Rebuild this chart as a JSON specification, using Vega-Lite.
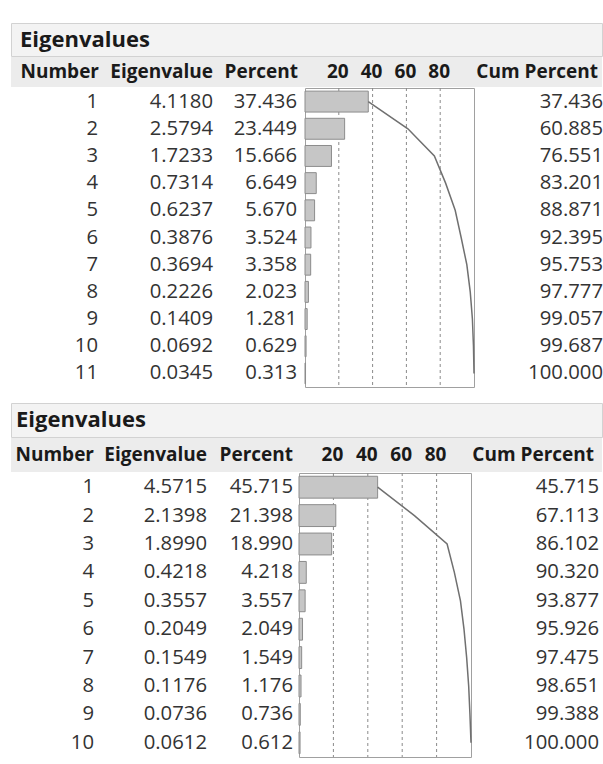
{
  "$schema": "https://vega.github.io/schema/vega-lite/v6.json",
  "padding": {"left": 10, "top": 22, "right": 0, "bottom": 0},
  "background": "white",
  "config": {
    "view": {"stroke": null},
    "font": "Open Sans",
    "text": {"fontSize": 20.3, "color": "#333333"},
    "concat": {"spacing": 0}
  },
  "datasets": {
    "t1": [
      {"Number": 1, "Eigenvalue": 4.1180, "Percent": 37.436, "CumPercent": 37.436},
      {"Number": 2, "Eigenvalue": 2.5794, "Percent": 23.449, "CumPercent": 60.885},
      {"Number": 3, "Eigenvalue": 1.7233, "Percent": 15.666, "CumPercent": 76.551},
      {"Number": 4, "Eigenvalue": 0.7314, "Percent": 6.649, "CumPercent": 83.201},
      {"Number": 5, "Eigenvalue": 0.6237, "Percent": 5.670, "CumPercent": 88.871},
      {"Number": 6, "Eigenvalue": 0.3876, "Percent": 3.524, "CumPercent": 92.395},
      {"Number": 7, "Eigenvalue": 0.3694, "Percent": 3.358, "CumPercent": 95.753},
      {"Number": 8, "Eigenvalue": 0.2226, "Percent": 2.023, "CumPercent": 97.777},
      {"Number": 9, "Eigenvalue": 0.1409, "Percent": 1.281, "CumPercent": 99.057},
      {"Number": 10, "Eigenvalue": 0.0692, "Percent": 0.629, "CumPercent": 99.687},
      {"Number": 11, "Eigenvalue": 0.0345, "Percent": 0.313, "CumPercent": 100.000}
    ],
    "t2": [
      {"Number": 1, "Eigenvalue": 4.5715, "Percent": 45.715, "CumPercent": 45.715},
      {"Number": 2, "Eigenvalue": 2.1398, "Percent": 21.398, "CumPercent": 67.113},
      {"Number": 3, "Eigenvalue": 1.8990, "Percent": 18.990, "CumPercent": 86.102},
      {"Number": 4, "Eigenvalue": 0.4218, "Percent": 4.218, "CumPercent": 90.320},
      {"Number": 5, "Eigenvalue": 0.3557, "Percent": 3.557, "CumPercent": 93.877},
      {"Number": 6, "Eigenvalue": 0.2049, "Percent": 2.049, "CumPercent": 95.926},
      {"Number": 7, "Eigenvalue": 0.1549, "Percent": 1.549, "CumPercent": 97.475},
      {"Number": 8, "Eigenvalue": 0.1176, "Percent": 1.176, "CumPercent": 98.651},
      {"Number": 9, "Eigenvalue": 0.0736, "Percent": 0.736, "CumPercent": 99.388},
      {"Number": 10, "Eigenvalue": 0.0612, "Percent": 0.612, "CumPercent": 100.000}
    ],
    "titles": [{"title": "Eigenvalues"}],
    "headers": [
      {"col": "Number"}, {"col": "Eigenvalue"}, {"col": "Percent"}, {"col": "Cum Percent"}
    ],
    "ticks": [{"tick": 20}, {"tick": 40}, {"tick": 60}, {"tick": 80}]
  },
  "spacing": 14,
  "vconcat": [
    {
      "spacing": 0,
      "vconcat": [
        {
          "width": 591, "height": 33,
          "data": {"name": "titles"},
          "mark": {"type": "text", "align": "left", "dx": 9, "fontSize": 22, "fontWeight": "bold", "color": "#1a1a1a"},
          "encoding": {"x": {"value": 0}, "text": {"field": "title"}},
          "view": {"fill": "#f3f3f3", "stroke": "#d2d2d2"}
        },
        {
          "spacing": 0,
          "hconcat": [
            {"width": 91, "height": 30, "data": {"name": "headers"}, "transform": [{"filter": "datum.col === 'Number'"}],
             "mark": {"type": "text", "align": "right", "dx": -3, "fontWeight": "bold", "fontSize": 19, "color": "#1a1a1a"},
             "encoding": {"x": {"value": "width"}, "text": {"field": "col"}}, "view": {"fill": "#ececec"}},
            {"width": 115, "height": 30, "data": {"name": "headers"}, "transform": [{"filter": "datum.col === 'Eigenvalue'"}],
             "mark": {"type": "text", "align": "right", "dx": -4, "fontWeight": "bold", "fontSize": 19, "color": "#1a1a1a"},
             "encoding": {"x": {"value": "width"}, "text": {"field": "col"}}, "view": {"fill": "#ececec"}},
            {"width": 87, "height": 30, "data": {"name": "headers"}, "transform": [{"filter": "datum.col === 'Percent'"}],
             "mark": {"type": "text", "align": "right", "dx": -6, "fontWeight": "bold", "fontSize": 19, "color": "#1a1a1a"},
             "encoding": {"x": {"value": "width"}, "text": {"field": "col"}}, "view": {"fill": "#ececec"}},
            {"width": 169, "height": 30, "data": {"name": "ticks"},
             "mark": {"type": "text", "align": "center", "fontWeight": "bold", "fontSize": 19, "color": "#1a1a1a"},
             "encoding": {"x": {"field": "tick", "type": "quantitative", "scale": {"domain": [0, 100], "nice": false}, "axis": null}, "text": {"field": "tick"}},
             "view": {"fill": "#ececec"}},
            {"width": 129, "height": 30, "data": {"name": "headers"}, "transform": [{"filter": "datum.col === 'Cum Percent'"}],
             "mark": {"type": "text", "align": "right", "dx": -4, "fontWeight": "bold", "fontSize": 19, "color": "#1a1a1a"},
             "encoding": {"x": {"value": "width"}, "text": {"field": "col"}}, "view": {"fill": "#ececec"}}
          ]
        },
        {
          "spacing": 0,
          "hconcat": [
            {"width": 91, "height": 299, "data": {"name": "t1"},
             "mark": {"type": "text", "align": "right", "dx": -4},
             "encoding": {"x": {"value": "width"}, "y": {"field": "Number", "type": "ordinal", "axis": null, "scale": {"type": "band", "paddingInner": 0.23, "paddingOuter": 0.115}}, "text": {"field": "Number"}}},
            {"width": 115, "height": 299, "data": {"name": "t1"},
             "mark": {"type": "text", "align": "right", "dx": -4},
             "encoding": {"x": {"value": "width"}, "y": {"field": "Number", "type": "ordinal", "axis": null, "scale": {"type": "band", "paddingInner": 0.23, "paddingOuter": 0.115}}, "text": {"field": "Eigenvalue", "format": ".4f"}}},
            {"width": 87, "height": 299, "data": {"name": "t1"},
             "mark": {"type": "text", "align": "right", "dx": -7},
             "encoding": {"x": {"value": "width"}, "y": {"field": "Number", "type": "ordinal", "axis": null, "scale": {"type": "band", "paddingInner": 0.23, "paddingOuter": 0.115}}, "text": {"field": "Percent", "format": ".3f"}}},
            {"width": 169, "height": 299, "data": {"name": "t1"},
             "view": {"stroke": "#a0a0a0"},
             "encoding": {
               "y": {"field": "Number", "type": "ordinal", "axis": null, "scale": {"type": "band", "paddingInner": 0.23, "paddingOuter": 0.115}}
             },
             "layer": [
               {"data": {"name": "ticks"}, "mark": {"type": "rule", "color": "#8a8a8a", "strokeDash": [3, 3], "strokeWidth": 1},
                "encoding": {"x": {"field": "tick", "type": "quantitative", "scale": {"domain": [0, 100], "nice": false}, "axis": null}, "y": null}},
               {"mark": {"type": "bar", "color": "#c6c6c6", "stroke": "#8c8c8c", "strokeWidth": 1},
                "encoding": {"x": {"field": "Percent", "type": "quantitative", "scale": {"domain": [0, 100], "nice": false}, "axis": null}}},
               {"mark": {"type": "line", "color": "#707070", "strokeWidth": 1.5},
                "encoding": {"x": {"field": "CumPercent", "type": "quantitative", "scale": {"domain": [0, 100], "nice": false}, "axis": null}}}
             ]},
            {"width": 129, "height": 299, "data": {"name": "t1"},
             "mark": {"type": "text", "align": "right", "dx": -4},
             "encoding": {"x": {"value": "width"}, "y": {"field": "Number", "type": "ordinal", "axis": null, "scale": {"type": "band", "paddingInner": 0.23, "paddingOuter": 0.115}}, "text": {"field": "CumPercent", "format": ".3f"}}}
          ]
        }
      ]
    },
    {
      "spacing": 0,
      "vconcat": [
        {
          "width": 591, "height": 34,
          "data": {"name": "titles"},
          "mark": {"type": "text", "align": "left", "dx": 5, "fontSize": 22, "fontWeight": "bold", "color": "#1a1a1a"},
          "encoding": {"x": {"value": 0}, "text": {"field": "title"}},
          "view": {"fill": "#f3f3f3", "stroke": "#d2d2d2"}
        },
        {
          "spacing": 0,
          "hconcat": [
            {"width": 86, "height": 34, "data": {"name": "headers"}, "transform": [{"filter": "datum.col === 'Number'"}],
             "mark": {"type": "text", "align": "right", "dx": -3, "fontWeight": "bold", "fontSize": 19, "color": "#1a1a1a"},
             "encoding": {"x": {"value": "width"}, "text": {"field": "col"}}, "view": {"fill": "#ececec"}},
            {"width": 114, "height": 34, "data": {"name": "headers"}, "transform": [{"filter": "datum.col === 'Eigenvalue'"}],
             "mark": {"type": "text", "align": "right", "dx": -4, "fontWeight": "bold", "fontSize": 19, "color": "#1a1a1a"},
             "encoding": {"x": {"value": "width"}, "text": {"field": "col"}}, "view": {"fill": "#ececec"}},
            {"width": 87, "height": 34, "data": {"name": "headers"}, "transform": [{"filter": "datum.col === 'Percent'"}],
             "mark": {"type": "text", "align": "right", "dx": -5, "fontWeight": "bold", "fontSize": 19, "color": "#1a1a1a"},
             "encoding": {"x": {"value": "width"}, "text": {"field": "col"}}, "view": {"fill": "#ececec"}},
            {"width": 172, "height": 34, "data": {"name": "ticks"},
             "mark": {"type": "text", "align": "center", "fontWeight": "bold", "fontSize": 19, "color": "#1a1a1a"},
             "encoding": {"x": {"field": "tick", "type": "quantitative", "scale": {"domain": [0, 100], "nice": false}, "axis": null}, "text": {"field": "tick"}},
             "view": {"fill": "#ececec"}},
            {"width": 132, "height": 34, "data": {"name": "headers"}, "transform": [{"filter": "datum.col === 'Cum Percent'"}],
             "mark": {"type": "text", "align": "right", "dx": -8, "fontWeight": "bold", "fontSize": 19, "color": "#1a1a1a"},
             "encoding": {"x": {"value": "width"}, "text": {"field": "col"}}, "view": {"fill": "#ececec"}}
          ]
        },
        {
          "spacing": 0,
          "hconcat": [
            {"width": 86, "height": 284, "data": {"name": "t2"},
             "mark": {"type": "text", "align": "right", "dx": -3},
             "encoding": {"x": {"value": "width"}, "y": {"field": "Number", "type": "ordinal", "axis": null, "scale": {"type": "band", "paddingInner": 0.23, "paddingOuter": 0.115}}, "text": {"field": "Number"}}},
            {"width": 114, "height": 284, "data": {"name": "t2"},
             "mark": {"type": "text", "align": "right", "dx": -4},
             "encoding": {"x": {"value": "width"}, "y": {"field": "Number", "type": "ordinal", "axis": null, "scale": {"type": "band", "paddingInner": 0.23, "paddingOuter": 0.115}}, "text": {"field": "Eigenvalue", "format": ".4f"}}},
            {"width": 87, "height": 284, "data": {"name": "t2"},
             "mark": {"type": "text", "align": "right", "dx": -5},
             "encoding": {"x": {"value": "width"}, "y": {"field": "Number", "type": "ordinal", "axis": null, "scale": {"type": "band", "paddingInner": 0.23, "paddingOuter": 0.115}}, "text": {"field": "Percent", "format": ".3f"}}},
            {"width": 172, "height": 284, "data": {"name": "t2"},
             "view": {"stroke": "#a0a0a0"},
             "encoding": {
               "y": {"field": "Number", "type": "ordinal", "axis": null, "scale": {"type": "band", "paddingInner": 0.23, "paddingOuter": 0.115}}
             },
             "layer": [
               {"data": {"name": "ticks"}, "mark": {"type": "rule", "color": "#8a8a8a", "strokeDash": [3, 3], "strokeWidth": 1},
                "encoding": {"x": {"field": "tick", "type": "quantitative", "scale": {"domain": [0, 100], "nice": false}, "axis": null}, "y": null}},
               {"mark": {"type": "bar", "color": "#c6c6c6", "stroke": "#8c8c8c", "strokeWidth": 1},
                "encoding": {"x": {"field": "Percent", "type": "quantitative", "scale": {"domain": [0, 100], "nice": false}, "axis": null}}},
               {"mark": {"type": "line", "color": "#707070", "strokeWidth": 1.5},
                "encoding": {"x": {"field": "CumPercent", "type": "quantitative", "scale": {"domain": [0, 100], "nice": false}, "axis": null}}}
             ]},
            {"width": 132, "height": 284, "data": {"name": "t2"},
             "mark": {"type": "text", "align": "right", "dx": -8},
             "encoding": {"x": {"value": "width"}, "y": {"field": "Number", "type": "ordinal", "axis": null, "scale": {"type": "band", "paddingInner": 0.23, "paddingOuter": 0.115}}, "text": {"field": "CumPercent", "format": ".3f"}}}
          ]
        }
      ]
    }
  ]
}
